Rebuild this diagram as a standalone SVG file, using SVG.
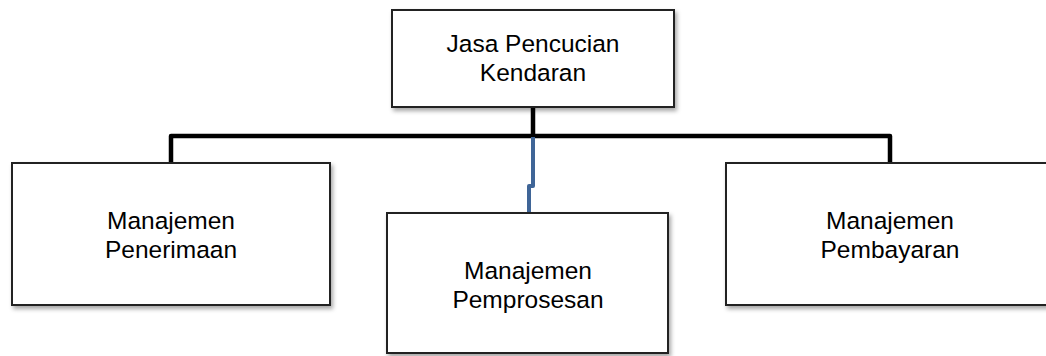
<svg xmlns="http://www.w3.org/2000/svg" width="1046" height="356" viewBox="0 0 1046 356">
<defs>
<filter id="sh" x="-5%" y="-5%" width="112%" height="120%">
<feDropShadow dx="2" dy="3" stdDeviation="2" flood-color="#000" flood-opacity="0.35"/>
</filter>
<style>
.box{fill:#fff;stroke:#222;stroke-width:2;filter:url(#sh)}
.t{font-family:"Liberation Sans",Arial,sans-serif;font-size:24.5px;fill:#000;text-anchor:middle}
.c{fill:none;stroke:#000;stroke-width:4.5;stroke-linejoin:round}
.b{fill:none;stroke:#3f6597;stroke-width:4;stroke-linejoin:round}
</style>
</defs>
<rect width="1046" height="356" fill="#fff"/>
<g id="connectors">
<path class="c" d="M533 107 V136"/>
<path class="c" d="M171 163 V136 H890 V163"/>
<path class="b" d="M533 137 V186 H529 V213"/>
</g>
<g id="n-top">
<rect class="box" x="392" y="10" width="282" height="97"/>
<text class="t" x="533" y="52">Jasa Pencucian</text>
<text class="t" x="533" y="80.5">Kendaran</text>
</g>
<g id="n-penerimaan">
<rect class="box" x="12" y="163" width="318" height="142"/>
<text class="t" x="171" y="229">Manajemen</text>
<text class="t" x="171" y="257.5">Penerimaan</text>
</g>
<g id="n-pemprosesan">
<rect class="box" x="387" y="213" width="281" height="140"/>
<text class="t" x="528" y="279">Manajemen</text>
<text class="t" x="528" y="307.5">Pemprosesan</text>
</g>
<g id="n-pembayaran">
<rect class="box" x="726" y="163" width="328" height="142"/>
<text class="t" x="890" y="229">Manajemen</text>
<text class="t" x="890" y="257.5">Pembayaran</text>
</g>
</svg>
